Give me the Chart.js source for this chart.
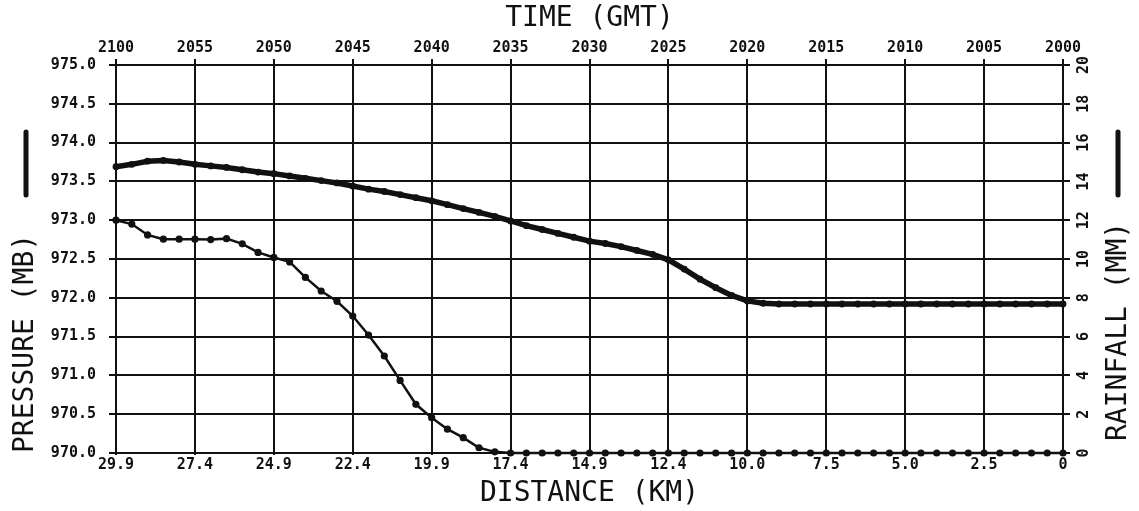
<!DOCTYPE html>
<html>
<head>
<meta charset="utf-8">
<script src="https://cdn.jsdelivr.net/npm/chart.js@4/dist/chart.umd.min.js"></script>
<style>
  html, body { margin: 0; padding: 0; background: #fff; }
  #wrap { width: 1139px; height: 511px; position: relative; }
</style>
</head>
<body>
<div id="wrap"><canvas id="chart"></canvas></div>
<script>
// minutes after 2100 GMT (one reading per minute, going back to 2000)
const minutes = Array.from({ length: 61 }, (_, i) => i);

const timeLabels = ['2100', '2055', '2050', '2045', '2040', '2035', '2030',
  '2025', '2020', '2015', '2010', '2005', '2000'];
const distLabels = ['29.9', '27.4', '24.9', '22.4', '19.9', '17.4', '14.9',
  '12.4', '10.0', '7.5', '5.0', '2.5', '0'];

// pressure (mb), left axis
const pressure = [
  973.69, 973.72, 973.76, 973.77, 973.75, 973.72, 973.70, 973.68, 973.65, 973.62,
  973.60, 973.57, 973.54, 973.51, 973.48, 973.44, 973.40, 973.37, 973.33, 973.29,
  973.25, 973.20, 973.15, 973.10, 973.05, 972.99, 972.93, 972.88, 972.83, 972.78,
  972.73, 972.70, 972.66, 972.61, 972.56, 972.49, 972.37, 972.24, 972.13, 972.03,
  971.96, 971.93, 971.92, 971.92, 971.92, 971.92, 971.92, 971.92, 971.92, 971.92,
  971.92, 971.92, 971.92, 971.92, 971.92, 971.92, 971.92, 971.92, 971.92, 971.92,
  971.92
];

// rainfall (mm), right axis
const rainfall = [
  12.0, 11.8, 11.24, 11.02, 11.02, 11.02, 11.0, 11.05, 10.78, 10.34,
  10.08, 9.85, 9.05, 8.35, 7.82, 7.06, 6.08, 5.0, 3.74, 2.51,
  1.82, 1.23, 0.79, 0.27, 0.06, 0, 0, 0, 0, 0,
  0, 0, 0, 0, 0, 0, 0, 0, 0, 0,
  0, 0, 0, 0, 0, 0, 0, 0, 0, 0,
  0, 0, 0, 0, 0, 0, 0, 0, 0, 0,
  0
];

const INK = '#111';
const tickFont = { family: 'DejaVu Sans Mono', size: 15, weight: 'bold' };
const titleFont = { family: 'DejaVu Sans Mono', size: 28, weight: 'normal' };

// right side: labels read bottom-to-top, plus the little marker bars
const sideBits = {
  id: 'sideBits',
  afterDraw(chart) {
    const ctx = chart.ctx;
    const s = chart.scales.y1;
    ctx.save();
    ctx.fillStyle = INK;
    ctx.font = 'bold 15px "DejaVu Sans Mono"';
    ctx.textAlign = 'center';
    ctx.textBaseline = 'middle';
    s.ticks.forEach(t => {
      ctx.save();
      ctx.translate(s.left + 21, s.getPixelForValue(t.value));
      ctx.rotate(-Math.PI / 2);
      ctx.fillText(String(t.value), 0, 0);
      ctx.restore();
    });
    ctx.font = '28px "DejaVu Sans Mono"';
    ctx.textAlign = 'left';
    ctx.save();
    ctx.translate(1119, 441);
    ctx.rotate(-Math.PI / 2);
    ctx.fillText('RAINFALL (MM)', 0, 0);
    ctx.restore();
    ctx.strokeStyle = INK;
    ctx.lineWidth = 5;
    ctx.lineCap = 'round';
    [26, 1118].forEach(x => {
      ctx.beginPath();
      ctx.moveTo(x, 132);
      ctx.lineTo(x, 195);
      ctx.stroke();
    });
    ctx.restore();
  }
};

new Chart(document.getElementById('chart'), {
  type: 'line',
  data: {
    datasets: [{
      label: 'PRESSURE (MB)',
      data: minutes.map((m, i) => ({ x: m, y: pressure[i] })),
      yAxisID: 'y',
      xAxisID: 'x',
      borderColor: INK,
      backgroundColor: INK,
      borderWidth: 5.5,
      pointRadius: 3.4,
      pointBorderWidth: 0,
      tension: 0,
      clip: false
    }, {
      label: 'RAINFALL (MM)',
      data: minutes.map((m, i) => ({ x: m, y: rainfall[i] })),
      yAxisID: 'y1',
      xAxisID: 'x',
      borderColor: INK,
      backgroundColor: INK,
      borderWidth: 2.5,
      pointRadius: 3.6,
      pointBorderWidth: 0,
      tension: 0,
      clip: false
    }]
  },
  options: {
    responsive: true,
    maintainAspectRatio: false,
    animation: false,
    layout: { padding: 0 },
    plugins: { legend: { display: false }, tooltip: { enabled: false } },
    scales: {
      x: {
        type: 'linear', position: 'bottom', min: 0, max: 60,
        afterFit: s => { s.height = 58; },
        afterBuildTicks: s => { s.ticks = timeLabels.map((_, i) => ({ value: i * 5 })); },
        ticks: { color: INK, font: tickFont, padding: 1, maxRotation: 0,
          callback: v => distLabels[Math.round(v / 5)] },
        grid: { color: INK, lineWidth: 2, tickLength: 2 },
        border: { color: INK, width: 2 },
        title: { display: true, text: 'DISTANCE (KM)', color: INK, font: titleFont,
          padding: { top: 0, bottom: 0 } }
      },
      x2: {
        type: 'linear', position: 'top', min: 0, max: 60,
        afterFit: s => { s.height = 65; },
        afterBuildTicks: s => { s.ticks = timeLabels.map((_, i) => ({ value: i * 5 })); },
        ticks: { color: INK, font: tickFont, padding: 2, maxRotation: 0,
          callback: v => timeLabels[Math.round(v / 5)] },
        grid: { color: INK, lineWidth: 2, tickLength: 6, drawOnChartArea: false },
        border: { color: INK, width: 2 },
        title: { display: true, text: 'TIME (GMT)', color: INK, font: titleFont,
          padding: { top: 2, bottom: 0 } }
      },
      y: {
        position: 'left', min: 970, max: 975,
        afterFit: s => { s.width = 116; },
        ticks: { stepSize: 0.5, color: INK, font: tickFont, padding: 13,
          callback: v => Number(v).toFixed(1) },
        grid: { color: INK, lineWidth: 2, tickLength: 7 },
        border: { color: INK, width: 2 },
        title: { display: true, text: 'PRESSURE (MB)', color: INK, font: titleFont,
          align: 'start', padding: { top: 9, bottom: 0 } }
      },
      y1: {
        position: 'right', min: 0, max: 20,
        afterFit: s => { s.width = 76; },
        ticks: { stepSize: 2, display: false },
        grid: { color: INK, lineWidth: 2, tickLength: 7, drawOnChartArea: false },
        border: { color: INK, width: 2 }
      }
    }
  },
  plugins: [sideBits]
});
</script>
</body>
</html>
